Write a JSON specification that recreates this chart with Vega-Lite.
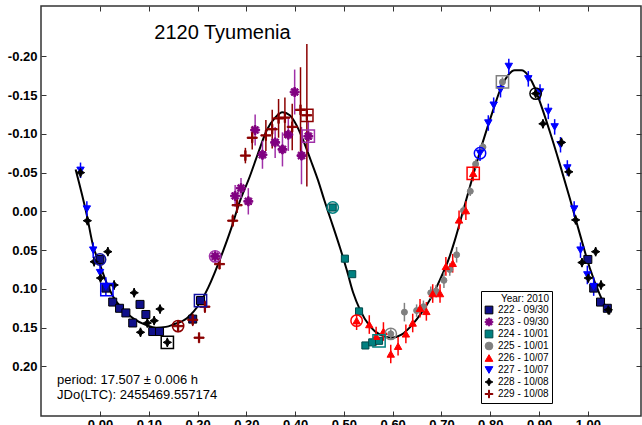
{
  "$schema": "https://vega.github.io/schema/vega-lite/v6.json",
  "width": 600,
  "height": 410,
  "autosize": {"type": "none"},
  "padding": {"left": 41, "top": 6, "right": 1, "bottom": 9},
  "background": "white",
  "config": {
    "font": "Liberation Sans",
    "view": {"stroke": "#333333", "strokeWidth": 1.5}
  },
  "datasets": {
    "curve": [
      {"x": -0.050, "y": -0.054}, {"x": -0.027, "y": 0.005}, {"x": -0.014, "y": 0.045}, {"x": -0.001, "y": 0.067},
      {"x": 0.014, "y": 0.093}, {"x": 0.027, "y": 0.110}, {"x": 0.048, "y": 0.127}, {"x": 0.068, "y": 0.138},
      {"x": 0.096, "y": 0.147}, {"x": 0.115, "y": 0.150}, {"x": 0.135, "y": 0.149}, {"x": 0.150, "y": 0.146},
      {"x": 0.178, "y": 0.138}, {"x": 0.205, "y": 0.118}, {"x": 0.222, "y": 0.098}, {"x": 0.253, "y": 0.050},
      {"x": 0.270, "y": 0.020}, {"x": 0.285, "y": -0.010}, {"x": 0.307, "y": -0.045}, {"x": 0.324, "y": -0.075},
      {"x": 0.342, "y": -0.105}, {"x": 0.359, "y": -0.121}, {"x": 0.374, "y": -0.128}, {"x": 0.389, "y": -0.124},
      {"x": 0.403, "y": -0.111}, {"x": 0.417, "y": -0.091}, {"x": 0.432, "y": -0.066}, {"x": 0.447, "y": -0.040},
      {"x": 0.460, "y": -0.014}, {"x": 0.470, "y": 0.005}, {"x": 0.478, "y": 0.020}, {"x": 0.492, "y": 0.047},
      {"x": 0.506, "y": 0.076}, {"x": 0.519, "y": 0.105}, {"x": 0.533, "y": 0.127}, {"x": 0.553, "y": 0.148},
      {"x": 0.574, "y": 0.159}, {"x": 0.598, "y": 0.163}, {"x": 0.618, "y": 0.159}, {"x": 0.639, "y": 0.147},
      {"x": 0.659, "y": 0.131}, {"x": 0.680, "y": 0.110}, {"x": 0.697, "y": 0.088}, {"x": 0.714, "y": 0.063},
      {"x": 0.727, "y": 0.038}, {"x": 0.745, "y": -0.002}, {"x": 0.765, "y": -0.047}, {"x": 0.785, "y": -0.090},
      {"x": 0.806, "y": -0.131}, {"x": 0.823, "y": -0.161}, {"x": 0.837, "y": -0.176}, {"x": 0.850, "y": -0.182},
      {"x": 0.864, "y": -0.182}, {"x": 0.878, "y": -0.175}, {"x": 0.891, "y": -0.160}, {"x": 0.898, "y": -0.148},
      {"x": 0.922, "y": -0.103}, {"x": 0.943, "y": -0.060}, {"x": 0.963, "y": -0.017}, {"x": 0.984, "y": 0.030},
      {"x": 1.004, "y": 0.073}, {"x": 1.025, "y": 0.108}, {"x": 1.045, "y": 0.133}
    ],
    "pts": [
      {"s": "222 - 09/30", "x": 0.000, "y": 0.062, "e": 0.005},
      {"s": "222 - 09/30", "x": 0.012, "y": 0.099, "e": 0.005},
      {"s": "222 - 09/30", "x": 0.026, "y": 0.117, "e": 0.005},
      {"s": "222 - 09/30", "x": 0.040, "y": 0.125, "e": 0.005},
      {"s": "222 - 09/30", "x": 0.053, "y": 0.131, "e": 0.005},
      {"s": "222 - 09/30", "x": 0.067, "y": 0.144, "e": 0.005},
      {"s": "222 - 09/30", "x": 0.082, "y": 0.120, "e": 0.005},
      {"s": "222 - 09/30", "x": 0.094, "y": 0.133, "e": 0.005},
      {"s": "222 - 09/30", "x": 0.108, "y": 0.155, "e": 0.005},
      {"s": "222 - 09/30", "x": 0.122, "y": 0.155, "e": 0.005},
      {"s": "222 - 09/30", "x": 0.190, "y": 0.139, "e": 0.005},
      {"s": "222 - 09/30", "x": 0.206, "y": 0.115, "e": 0.005},
      {"s": "222 - 09/30", "x": 1.000, "y": 0.062, "e": 0.005},
      {"s": "222 - 09/30", "x": 1.012, "y": 0.099, "e": 0.005},
      {"s": "222 - 09/30", "x": 1.026, "y": 0.117, "e": 0.005},
      {"s": "222 - 09/30", "x": 1.040, "y": 0.125, "e": 0.005},
      {"s": "223 - 09/30", "x": 0.236, "y": 0.058, "e": 0.008},
      {"s": "223 - 09/30", "x": 0.277, "y": -0.020, "e": 0.014},
      {"s": "223 - 09/30", "x": 0.289, "y": -0.030, "e": 0.013},
      {"s": "223 - 09/30", "x": 0.304, "y": -0.013, "e": 0.017},
      {"s": "223 - 09/30", "x": 0.318, "y": -0.105, "e": 0.020},
      {"s": "223 - 09/30", "x": 0.333, "y": -0.073, "e": 0.018},
      {"s": "223 - 09/30", "x": 0.359, "y": -0.089, "e": 0.020},
      {"s": "223 - 09/30", "x": 0.374, "y": -0.080, "e": 0.022},
      {"s": "223 - 09/30", "x": 0.386, "y": -0.099, "e": 0.021},
      {"s": "223 - 09/30", "x": 0.399, "y": -0.154, "e": 0.029},
      {"s": "223 - 09/30", "x": 0.413, "y": -0.072, "e": 0.037},
      {"s": "223 - 09/30", "x": 0.427, "y": -0.097, "e": 0.020},
      {"s": "224 - 10/01", "x": 0.477, "y": -0.005, "e": 0.002},
      {"s": "224 - 10/01", "x": 0.502, "y": 0.061, "e": 0.002},
      {"s": "224 - 10/01", "x": 0.517, "y": 0.081, "e": 0.002},
      {"s": "224 - 10/01", "x": 0.531, "y": 0.129, "e": 0.002},
      {"s": "224 - 10/01", "x": 0.544, "y": 0.173, "e": 0.002},
      {"s": "224 - 10/01", "x": 0.558, "y": 0.169, "e": 0.002},
      {"s": "224 - 10/01", "x": 0.572, "y": 0.167, "e": 0.002},
      {"s": "225 - 10/01", "x": 0.596, "y": 0.158, "e": 0.006},
      {"s": "225 - 10/01", "x": 0.624, "y": 0.130, "e": 0.012},
      {"s": "225 - 10/01", "x": 0.649, "y": 0.128, "e": 0.008},
      {"s": "225 - 10/01", "x": 0.663, "y": 0.123, "e": 0.008},
      {"s": "225 - 10/01", "x": 0.678, "y": 0.105, "e": 0.008},
      {"s": "225 - 10/01", "x": 0.689, "y": 0.103, "e": 0.008},
      {"s": "225 - 10/01", "x": 0.705, "y": 0.089, "e": 0.010},
      {"s": "225 - 10/01", "x": 0.717, "y": 0.075, "e": 0.008},
      {"s": "225 - 10/01", "x": 0.731, "y": 0.056, "e": 0.010},
      {"s": "225 - 10/01", "x": 0.745, "y": -0.001, "e": 0.006},
      {"s": "225 - 10/01", "x": 0.759, "y": -0.026, "e": 0.006},
      {"s": "225 - 10/01", "x": 0.770, "y": -0.061, "e": 0.006},
      {"s": "225 - 10/01", "x": 0.785, "y": -0.083, "e": 0.006},
      {"s": "225 - 10/01", "x": 0.825, "y": -0.167, "e": 0.006},
      {"s": "226 - 10/07", "x": 0.526, "y": 0.141, "e": 0.012},
      {"s": "226 - 10/07", "x": 0.552, "y": 0.146, "e": 0.012},
      {"s": "226 - 10/07", "x": 0.566, "y": 0.161, "e": 0.012},
      {"s": "226 - 10/07", "x": 0.581, "y": 0.155, "e": 0.012},
      {"s": "226 - 10/07", "x": 0.596, "y": 0.184, "e": 0.012},
      {"s": "226 - 10/07", "x": 0.611, "y": 0.174, "e": 0.012},
      {"s": "226 - 10/07", "x": 0.627, "y": 0.158, "e": 0.012},
      {"s": "226 - 10/07", "x": 0.641, "y": 0.144, "e": 0.012},
      {"s": "226 - 10/07", "x": 0.656, "y": 0.125, "e": 0.012},
      {"s": "226 - 10/07", "x": 0.669, "y": 0.129, "e": 0.012},
      {"s": "226 - 10/07", "x": 0.682, "y": 0.106, "e": 0.012},
      {"s": "226 - 10/07", "x": 0.697, "y": 0.106, "e": 0.012},
      {"s": "226 - 10/07", "x": 0.709, "y": 0.071, "e": 0.012},
      {"s": "226 - 10/07", "x": 0.723, "y": 0.067, "e": 0.012},
      {"s": "226 - 10/07", "x": 0.736, "y": 0.011, "e": 0.012},
      {"s": "226 - 10/07", "x": 0.750, "y": -0.001, "e": 0.012},
      {"s": "226 - 10/07", "x": 0.765, "y": -0.049, "e": 0.010},
      {"s": "227 - 10/07", "x": -0.040, "y": -0.053, "e": 0.010},
      {"s": "227 - 10/07", "x": -0.027, "y": -0.003, "e": 0.010},
      {"s": "227 - 10/07", "x": -0.014, "y": 0.050, "e": 0.010},
      {"s": "227 - 10/07", "x": 0.000, "y": 0.079, "e": 0.010},
      {"s": "227 - 10/07", "x": 0.012, "y": 0.097, "e": 0.012},
      {"s": "227 - 10/07", "x": 0.779, "y": -0.075, "e": 0.010},
      {"s": "227 - 10/07", "x": 0.796, "y": -0.114, "e": 0.010},
      {"s": "227 - 10/07", "x": 0.807, "y": -0.137, "e": 0.010},
      {"s": "227 - 10/07", "x": 0.821, "y": -0.157, "e": 0.010},
      {"s": "227 - 10/07", "x": 0.838, "y": -0.187, "e": 0.010},
      {"s": "227 - 10/07", "x": 0.878, "y": -0.171, "e": 0.010},
      {"s": "227 - 10/07", "x": 0.902, "y": -0.154, "e": 0.010},
      {"s": "227 - 10/07", "x": 0.919, "y": -0.129, "e": 0.010},
      {"s": "227 - 10/07", "x": 0.932, "y": -0.109, "e": 0.010},
      {"s": "227 - 10/07", "x": 0.944, "y": -0.086, "e": 0.010},
      {"s": "227 - 10/07", "x": 0.958, "y": -0.056, "e": 0.010},
      {"s": "227 - 10/07", "x": 0.972, "y": -0.003, "e": 0.010},
      {"s": "227 - 10/07", "x": 0.985, "y": 0.050, "e": 0.010},
      {"s": "227 - 10/07", "x": 0.999, "y": 0.082, "e": 0.012},
      {"s": "227 - 10/07", "x": 1.012, "y": 0.097, "e": 0.012},
      {"s": "228 - 10/08", "x": -0.040, "y": -0.050, "e": 0.006},
      {"s": "228 - 10/08", "x": -0.026, "y": 0.012, "e": 0.006},
      {"s": "228 - 10/08", "x": -0.012, "y": 0.065, "e": 0.006},
      {"s": "228 - 10/08", "x": 0.001, "y": 0.086, "e": 0.006},
      {"s": "228 - 10/08", "x": 0.016, "y": 0.052, "e": 0.006},
      {"s": "228 - 10/08", "x": 0.029, "y": 0.095, "e": 0.006},
      {"s": "228 - 10/08", "x": 0.070, "y": 0.105, "e": 0.006},
      {"s": "228 - 10/08", "x": 0.083, "y": 0.156, "e": 0.006},
      {"s": "228 - 10/08", "x": 0.097, "y": 0.144, "e": 0.006},
      {"s": "228 - 10/08", "x": 0.111, "y": 0.141, "e": 0.006},
      {"s": "228 - 10/08", "x": 0.123, "y": 0.126, "e": 0.006},
      {"s": "228 - 10/08", "x": 0.138, "y": 0.169, "e": 0.006},
      {"s": "228 - 10/08", "x": 0.893, "y": -0.152, "e": 0.006},
      {"s": "228 - 10/08", "x": 0.908, "y": -0.113, "e": 0.006},
      {"s": "228 - 10/08", "x": 0.946, "y": -0.089, "e": 0.006},
      {"s": "228 - 10/08", "x": 0.961, "y": -0.051, "e": 0.006},
      {"s": "228 - 10/08", "x": 0.975, "y": 0.011, "e": 0.006},
      {"s": "228 - 10/08", "x": 0.988, "y": 0.066, "e": 0.006},
      {"s": "228 - 10/08", "x": 1.001, "y": 0.086, "e": 0.006},
      {"s": "228 - 10/08", "x": 1.016, "y": 0.052, "e": 0.006},
      {"s": "228 - 10/08", "x": 1.027, "y": 0.095, "e": 0.006},
      {"s": "228 - 10/08", "x": 1.042, "y": 0.127, "e": 0.006},
      {"s": "229 - 10/08", "x": 0.160, "y": 0.148, "e": 0.008},
      {"s": "229 - 10/08", "x": 0.190, "y": 0.140, "e": 0.008},
      {"s": "229 - 10/08", "x": 0.203, "y": 0.163, "e": 0.005},
      {"s": "229 - 10/08", "x": 0.215, "y": 0.123, "e": 0.008},
      {"s": "229 - 10/08", "x": 0.245, "y": 0.068, "e": 0.006},
      {"s": "229 - 10/08", "x": 0.272, "y": 0.012, "e": 0.008},
      {"s": "229 - 10/08", "x": 0.281, "y": -0.008, "e": 0.010},
      {"s": "229 - 10/08", "x": 0.298, "y": -0.072, "e": 0.010},
      {"s": "229 - 10/08", "x": 0.312, "y": -0.095, "e": 0.015},
      {"s": "229 - 10/08", "x": 0.340, "y": -0.098, "e": 0.020},
      {"s": "229 - 10/08", "x": 0.353, "y": -0.106, "e": 0.025},
      {"s": "229 - 10/08", "x": 0.366, "y": -0.120, "e": 0.025},
      {"s": "229 - 10/08", "x": 0.379, "y": -0.121, "e": 0.026},
      {"s": "229 - 10/08", "x": 0.394, "y": -0.109, "e": 0.030},
      {"s": "229 - 10/08", "x": 0.411, "y": -0.131, "e": 0.055},
      {"s": "229 - 10/08", "x": 0.424, "y": -0.124, "e": 0.092}
    ],
    "openCi": [
      {"s": "222 - 09/30", "x": 0.000, "y": 0.062},
      {"s": "223 - 09/30", "x": 0.236, "y": 0.058},
      {"s": "224 - 10/01", "x": 0.477, "y": -0.005},
      {"s": "225 - 10/01", "x": 0.596, "y": 0.158},
      {"s": "226 - 10/07", "x": 0.526, "y": 0.141},
      {"s": "227 - 10/07", "x": 0.779, "y": -0.075},
      {"s": "228 - 10/08", "x": 0.893, "y": -0.152},
      {"s": "229 - 10/08", "x": 0.160, "y": 0.148}
    ],
    "openSq": [
      {"s": "222 - 09/30", "x": 0.206, "y": 0.115},
      {"s": "223 - 09/30", "x": 0.427, "y": -0.097},
      {"s": "224 - 10/01", "x": 0.572, "y": 0.167},
      {"s": "225 - 10/01", "x": 0.825, "y": -0.167},
      {"s": "226 - 10/07", "x": 0.765, "y": -0.049},
      {"s": "227 - 10/07", "x": 0.014, "y": 0.101},
      {"s": "228 - 10/08", "x": 0.138, "y": 0.169},
      {"s": "229 - 10/08", "x": 0.424, "y": -0.124}
    ],
    "ttl": [{"t": "2120 Tyumenia"}],
    "per": [{"t": "period: 17.507 ± 0.006 h"}],
    "jdo": [{"t": "JDo(LTC): 2455469.557174"}]
  },
  "layer": [
    {
      "data": {"name": "curve"},
      "mark": {"type": "line", "color": "#000000", "strokeWidth": 2, "interpolate": "monotone"},
      "encoding": {
        "x": {"field": "x", "type": "quantitative", "scale": {"domain": [-0.121, 1.109], "nice": false, "zero": false},
          "axis": {"orient": "bottom", "values": [0, 0.1, 0.2, 0.3, 0.4, 0.5, 0.6, 0.7, 0.8, 0.9, 1.0], "format": ".2f", "title": null, "grid": false, "domain": false,
            "tickSize": -5, "tickColor": "#333333", "tickWidth": 1, "labelPadding": 7, "labelFontSize": 13, "labelFontWeight": "bold", "labelColor": "#000000", "labelFlush": false}},
        "y": {"field": "y", "type": "quantitative", "scale": {"domain": [-0.265, 0.264], "nice": false, "zero": false, "reverse": true},
          "axis": {"orient": "left", "values": [-0.2, -0.15, -0.1, -0.05, 0, 0.05, 0.1, 0.15, 0.2], "labelExpr": "replace(format(datum.value, '.2f'), '\u2212', '-')", "title": null, "grid": false, "domain": false,
            "tickSize": -5, "tickColor": "#333333", "tickWidth": 1, "labelPadding": 9, "labelFontSize": 13, "labelFontWeight": "bold", "labelColor": "#000000", "labelFlush": false}}
      }
    },
    {
      "data": {"name": "pts"},
      "mark": {"type": "errorbar", "ticks": false, "rule": {"strokeWidth": 1.5}},
      "encoding": {
        "x": {"field": "x", "type": "quantitative", "scale": {"domain": [-0.121, 1.109], "nice": false, "zero": false},
          "axis": {"orient": "top", "values": [0, 0.1, 0.2, 0.3, 0.4, 0.5, 0.6, 0.7, 0.8, 0.9, 1.0], "labels": false, "title": null, "grid": false, "domain": false, "tickSize": -5, "tickColor": "#333333"}},
        "y": {"field": "y", "type": "quantitative", "scale": {"domain": [-0.265, 0.264], "nice": false, "zero": false, "reverse": true},
          "axis": {"orient": "right", "values": [-0.2, -0.15, -0.1, -0.05, 0, 0.05, 0.1, 0.15, 0.2], "labels": false, "title": null, "grid": false, "domain": false, "tickSize": -5, "tickColor": "#333333"}},
        "yError": {"field": "e"},
        "color": {"field": "s", "type": "nominal", "legend": null,
          "scale": {"domain": ["229 - 10/08", "228 - 10/08", "227 - 10/07", "226 - 10/07", "225 - 10/01", "224 - 10/01", "223 - 09/30", "222 - 09/30"],
            "range": ["#8b0000", "#000000", "#0000ff", "#ff0000", "#808080", "#008080", "#a030a8", "#1010a0"]}}
      }
    },
    {
      "data": {"name": "pts"},
      "mark": {"type": "point", "filled": true, "opacity": 1, "strokeWidth": 1},
      "encoding": {
        "x": {"field": "x", "type": "quantitative", "scale": {"domain": [-0.121, 1.109], "nice": false, "zero": false}, "axis": null},
        "y": {"field": "y", "type": "quantitative", "scale": {"domain": [-0.265, 0.264], "nice": false, "zero": false, "reverse": true}, "axis": null},
        "fill": {"field": "s", "type": "nominal", "title": "Year: 2010",
          "scale": {"domain": ["222 - 09/30", "223 - 09/30", "224 - 10/01", "225 - 10/01", "226 - 10/07", "227 - 10/07", "228 - 10/08", "229 - 10/08"],
            "range": ["#10108a", "#800080", "#008080", "#808080", "#ff0000", "#0000ff", "#000000", "#8b0000"]},
          "legend": {"orient": "none", "legendX": 440, "legendY": 285, "strokeColor": "#000000", "fillColor": "#ffffff", "padding": 3,
            "titleFontSize": 10, "titleFontWeight": "normal", "titleColor": "#000000", "titleAnchor": "end", "titlePadding": 1,
            "labelFontSize": 10, "labelColor": "#000000", "labelOffset": 4, "rowPadding": 0, "symbolSize": 60, "symbolStrokeWidth": 1}},
        "stroke": {"field": "s", "type": "nominal", "title": "Year: 2010",
          "scale": {"domain": ["222 - 09/30", "223 - 09/30", "224 - 10/01", "225 - 10/01", "226 - 10/07", "227 - 10/07", "228 - 10/08", "229 - 10/08"],
            "range": ["#000000", "#800080", "#004848", "#808080", "#ff0000", "#0000ff", "#000000", "#8b0000"]},
          "legend": {"orient": "none", "legendX": 440, "legendY": 285, "strokeColor": "#000000", "fillColor": "#ffffff", "padding": 3,
            "titleFontSize": 10, "titleFontWeight": "normal", "titleColor": "#000000", "titleAnchor": "end", "titlePadding": 1,
            "labelFontSize": 10, "labelColor": "#000000", "labelOffset": 4, "rowPadding": 0, "symbolSize": 60, "symbolStrokeWidth": 1}},
        "shape": {"field": "s", "type": "nominal", "title": "Year: 2010",
          "scale": {"domain": ["222 - 09/30", "223 - 09/30", "224 - 10/01", "225 - 10/01", "226 - 10/07", "227 - 10/07", "228 - 10/08", "229 - 10/08"],
            "range": ["square",
              "M-1,-0.2H1V0.2H-1Z M-0.2,-1H0.2V1H-0.2Z M-0.85,-0.57L-0.57,-0.85L0.85,0.57L0.57,0.85Z M-0.85,0.57L0.57,-0.85L0.85,-0.57L-0.57,0.85Z",
              "square", "circle", "triangle-up", "triangle-down",
              "M0,-1L0.35,-0.35L1,0L0.35,0.35L0,1L-0.35,0.35L-1,0L-0.35,-0.35Z",
              "M-1,-0.13H-0.13V-1H0.13V-0.13H1V0.13H0.13V1H-0.13V0.13H-1Z"]},
          "legend": {"orient": "none", "legendX": 440, "legendY": 285, "strokeColor": "#000000", "fillColor": "#ffffff", "padding": 3,
            "titleFontSize": 10, "titleFontWeight": "normal", "titleColor": "#000000", "titleAnchor": "end", "titlePadding": 1,
            "labelFontSize": 10, "labelColor": "#000000", "labelOffset": 4, "rowPadding": 0, "symbolSize": 60, "symbolStrokeWidth": 1}},
        "size": {"field": "s", "type": "nominal", "legend": null,
          "scale": {"type": "ordinal", "domain": ["223 - 09/30", "224 - 10/01", "225 - 10/01", "226 - 10/07", "227 - 10/07", "228 - 10/08", "229 - 10/08", "222 - 09/30"],
            "range": [80, 50, 36, 55, 55, 70, 100, 64]}}
      }
    },
    {
      "data": {"name": "openCi"},
      "mark": {"type": "point", "shape": "circle", "filled": false, "size": 130, "strokeWidth": 1.5, "opacity": 1},
      "encoding": {
        "x": {"field": "x", "type": "quantitative", "scale": {"domain": [-0.121, 1.109], "nice": false, "zero": false}, "axis": null},
        "y": {"field": "y", "type": "quantitative", "scale": {"domain": [-0.265, 0.264], "nice": false, "zero": false, "reverse": true}, "axis": null},
        "color": {"field": "s", "type": "nominal", "legend": null,
          "scale": {"domain": ["229 - 10/08", "228 - 10/08", "227 - 10/07", "226 - 10/07", "225 - 10/01", "224 - 10/01", "223 - 09/30", "222 - 09/30"],
            "range": ["#8b0000", "#000000", "#0000ff", "#ff0000", "#808080", "#008080", "#a030a8", "#1010a0"]}}
      }
    },
    {
      "data": {"name": "openSq"},
      "mark": {"type": "point", "shape": "square", "filled": false, "size": 150, "strokeWidth": 1.5, "opacity": 1},
      "encoding": {
        "x": {"field": "x", "type": "quantitative", "scale": {"domain": [-0.121, 1.109], "nice": false, "zero": false}, "axis": null},
        "y": {"field": "y", "type": "quantitative", "scale": {"domain": [-0.265, 0.264], "nice": false, "zero": false, "reverse": true}, "axis": null},
        "color": {"field": "s", "type": "nominal", "legend": null,
          "scale": {"domain": ["229 - 10/08", "228 - 10/08", "227 - 10/07", "226 - 10/07", "225 - 10/01", "224 - 10/01", "223 - 09/30", "222 - 09/30"],
            "range": ["#8b0000", "#000000", "#0000ff", "#ff0000", "#808080", "#008080", "#a030a8", "#1010a0"]}}
      }
    },
    {
      "data": {"name": "ttl"},
      "mark": {"type": "text", "fontSize": 20, "align": "center", "baseline": "middle", "color": "#000000"},
      "encoding": {
        "x": {"datum": 0.251, "type": "quantitative", "scale": {"domain": [-0.121, 1.109], "nice": false, "zero": false}, "axis": null},
        "y": {"datum": -0.2307, "type": "quantitative", "scale": {"domain": [-0.265, 0.264], "nice": false, "zero": false, "reverse": true}, "axis": null},
        "text": {"field": "t"}
      }
    },
    {
      "data": {"name": "per"},
      "mark": {"type": "text", "fontSize": 13, "align": "left", "baseline": "middle", "color": "#000000"},
      "encoding": {
        "x": {"datum": -0.088, "type": "quantitative", "scale": {"domain": [-0.121, 1.109], "nice": false, "zero": false}, "axis": null},
        "y": {"datum": 0.217, "type": "quantitative", "scale": {"domain": [-0.265, 0.264], "nice": false, "zero": false, "reverse": true}, "axis": null},
        "text": {"field": "t"}
      }
    },
    {
      "data": {"name": "jdo"},
      "mark": {"type": "text", "fontSize": 13, "align": "left", "baseline": "middle", "color": "#000000"},
      "encoding": {
        "x": {"datum": -0.088, "type": "quantitative", "scale": {"domain": [-0.121, 1.109], "nice": false, "zero": false}, "axis": null},
        "y": {"datum": 0.237, "type": "quantitative", "scale": {"domain": [-0.265, 0.264], "nice": false, "zero": false, "reverse": true}, "axis": null},
        "text": {"field": "t"}
      }
    }
  ]
}
